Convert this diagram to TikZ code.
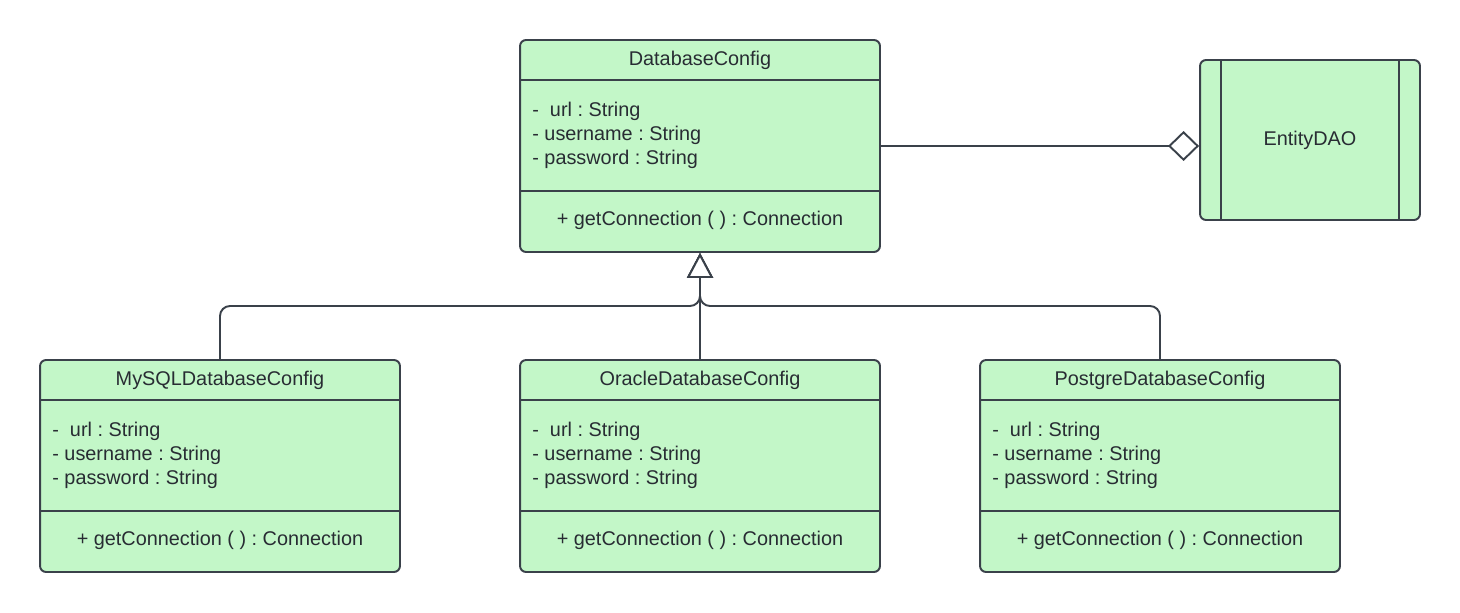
\documentclass[tikz,border=0pt]{standalone}
\usepackage{fontspec}
\setmainfont{Liberation Sans}
\frenchspacing
\usetikzlibrary{arrows.meta}
\definecolor{classfill}{HTML}{C3F7C8}
\definecolor{classline}{HTML}{3A414A}
\definecolor{classink}{HTML}{282C33}
\tikzset{
	classbox/.style={draw=classline, fill=classfill, line width=1.1pt, rounded corners=0.12cm,
			minimum width=7.2cm, minimum height=4.24cm, inner sep=0pt},
	classtext/.style={text=classink, font=\fontsize{11.3pt}{13.6pt}\selectfont, inner sep=0pt},
	divider/.style={draw=classline, line width=1.1pt},
	link/.style={draw=classline, line width=1.1pt, rounded corners=0.2cm},
	generalization/.style={link, -{Triangle[open, length=0.5cm, width=0.52cm, fill=white]}},
	aggregation/.style={link, -{Diamond[open, length=0.62cm, width=0.6cm, fill=white]}}
}

\begin{document}
\begin{tikzpicture}[x=0.02cm, y=-0.02cm]

			\useasboundingbox (0,0) rectangle (1460,612);

			% Draw the parent class
			\node[classbox] (db) at (700,146) {};
			\draw[divider] (520,80) -- (880,80);
			\draw[divider] (520,191) -- (880,191);
			\node[classtext, anchor=base] (db-title) at (700,65) {DatabaseConfig};
			\node[classtext, anchor=base west] (db-url) at (532,116) {-\ \ url : String};
			\node[classtext, anchor=base west] (db-user) at (532,140) {- username : String};
			\node[classtext, anchor=base west] (db-pass) at (532,164) {- password : String};
			\node[classtext, anchor=base] (db-get) at (700,225) {+ getConnection ( ) : Connection};

			% Draw the DAO box with its side bars
			\node[classbox, minimum width=4.4cm, minimum height=3.2cm] (dao) at (1310,140) {};
			\draw[divider] ([xshift=0.44cm]dao.north west) -- ([xshift=0.44cm]dao.south west);
			\draw[divider] ([xshift=-0.44cm]dao.north east) -- ([xshift=-0.44cm]dao.south east);
			\node[classtext] (dao-title) at (dao.center) {EntityDAO};

			% Draw the three subclasses
			\foreach \n/\cx/\ttl in {mysql/220/MySQLDatabaseConfig, oracle/700/OracleDatabaseConfig, postgre/1160/PostgreDatabaseConfig}{
					\node[classbox] (\n) at (\cx,466) {};
					\draw[divider] (\cx-180,400) -- (\cx+180,400);
					\draw[divider] (\cx-180,511) -- (\cx+180,511);
					\node[classtext, anchor=base] (\n-title) at (\cx,385) {\ttl};
					\node[classtext, anchor=base west] (\n-url) at (\cx-168,436) {-\ \ url : String};
					\node[classtext, anchor=base west] (\n-user) at (\cx-168,460) {- username : String};
					\node[classtext, anchor=base west] (\n-pass) at (\cx-168,484) {- password : String};
					\node[classtext, anchor=base] (\n-get) at (\cx,545) {+ getConnection ( ) : Connection};
				}

			% Aggregation and generalization links
			\coordinate (bus) at (700,306);
			\draw[aggregation] (db.east) -- (db.east -| dao.west);
			\draw[generalization] (oracle.north) -- (db.south);
			\draw[generalization] (mysql.north) |- (bus) -- (db.south);
			\draw[generalization] (postgre.north) |- (bus) -- (db.south);

		\end{tikzpicture}
\end{document}
